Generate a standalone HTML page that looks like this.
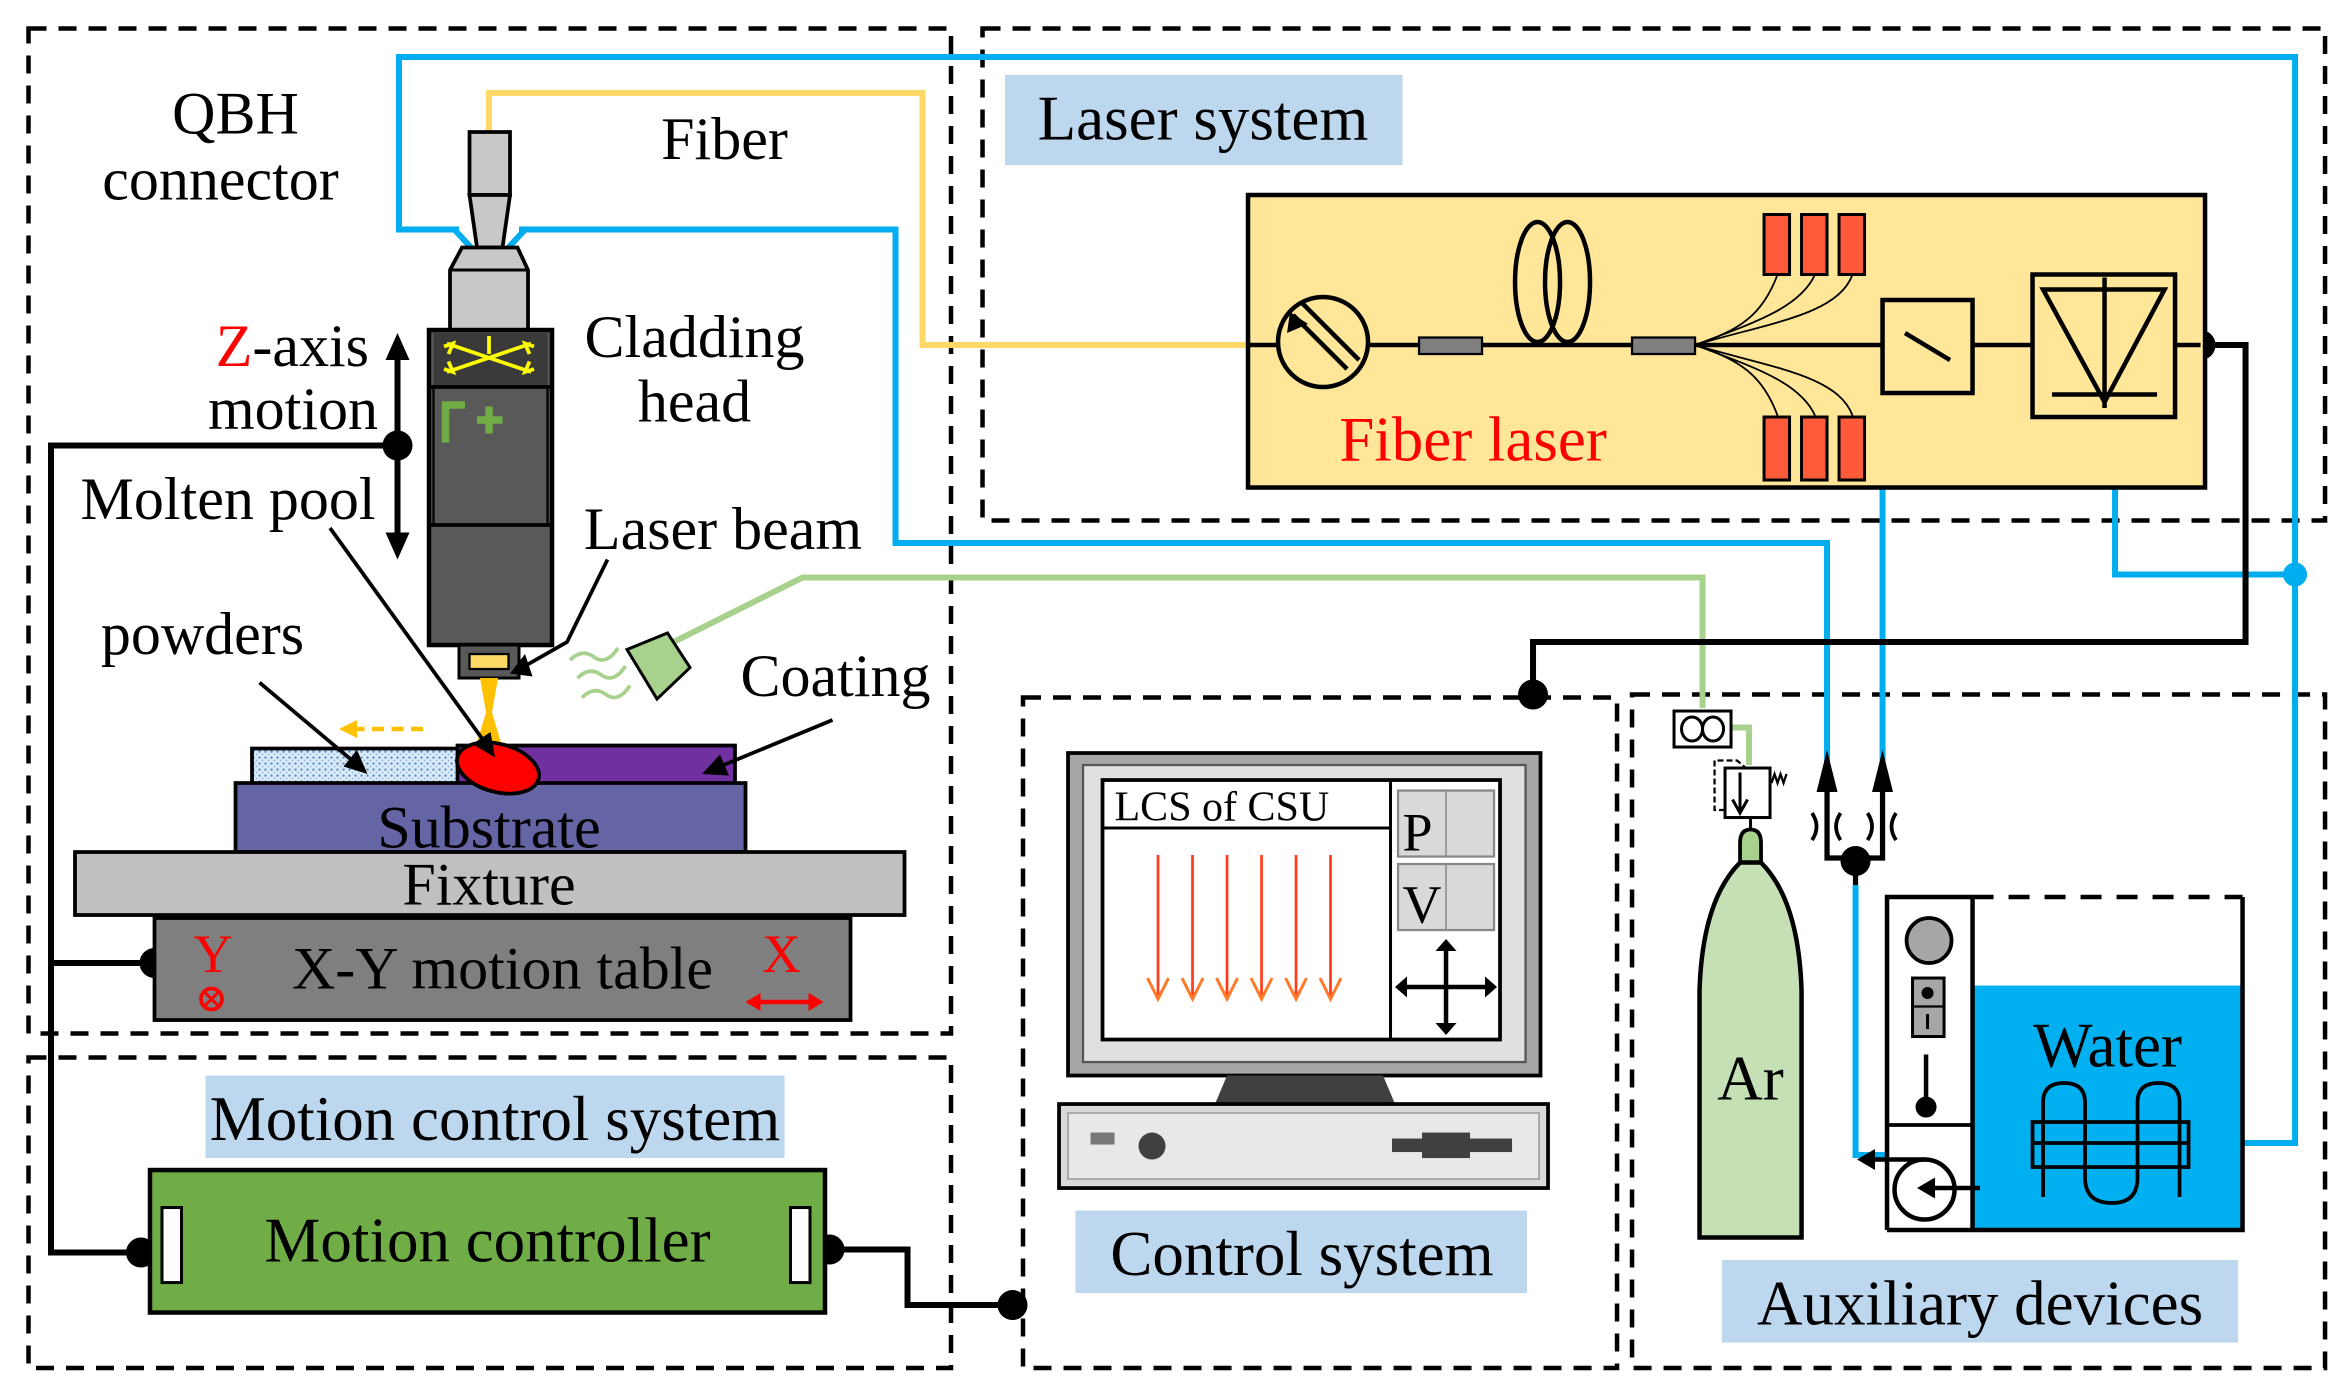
<!DOCTYPE html>
<html><head><meta charset="utf-8"><style>
html,body{margin:0;padding:0;background:#fff;}
svg{display:block;}
text{font-family:"Liberation Serif",serif;fill:#000;}
</style></head><body>
<svg width="2351" height="1397" viewBox="0 0 1567.3 931.3" preserveAspectRatio="none" xmlns="http://www.w3.org/2000/svg">
<defs>
<pattern id="dots" width="4" height="4" patternUnits="userSpaceOnUse"><rect width="4" height="4" fill="#dbeaf7"/><circle cx="1" cy="1" r="0.8" fill="#5b8fc9"/><circle cx="3" cy="3" r="0.6" fill="#8fb4de"/></pattern>
</defs>

<g fill="none" stroke="#000" stroke-width="3" stroke-dasharray="12,8">
<rect x="19" y="19" width="615" height="670"/>
<rect x="19" y="705" width="615" height="207"/>
<rect x="655" y="19" width="895" height="328"/>
<rect x="682" y="465" width="396" height="447"/>
<rect x="1088" y="463" width="462" height="449"/>
</g>

<g fill="none" stroke="#00aeef" stroke-width="4">
<polyline points="306,153 266,153 266,38 1530,38 1530,762 1495,762"/>
<polyline points="346,153 597,153 597,362 1218,362 1218,510"/>
<line x1="1255" y1="325" x2="1255" y2="510"/>
<polyline points="1410,325 1410,383 1530,383"/>
<polyline points="1237,590 1237,770 1258,770"/>
</g>
<circle cx="1530" cy="383" r="8" fill="#00aeef"/>

<polyline points="326,90 326,62 615,62 615,230 832,230" fill="none" stroke="#ffd966" stroke-width="4"/>
<polyline points="445,430 535,385 1135,385 1135,472" fill="none" stroke="#a9d18e" stroke-width="4"/>
<polyline points="1150,485 1166,485 1166,510" fill="none" stroke="#a9d18e" stroke-width="4"/>

<g fill="none" stroke="#000" stroke-width="4">
<polyline points="1470,230 1497,230 1497,428 1022,428 1022,463"/>
<polyline points="265,297 34,297 34,835 94,835"/>
<line x1="34" y1="642" x2="103" y2="642"/>
<polyline points="553,833 605,833 605,870 675,870"/>
</g>
<g fill="#000">
<circle cx="1467" cy="230" r="10"/><circle cx="1022" cy="463" r="10"/><circle cx="265" cy="297" r="10"/>
<circle cx="103" cy="642" r="10"/><circle cx="94" cy="835" r="10"/><circle cx="553" cy="833" r="10"/><circle cx="675" cy="870" r="10"/>
</g>

<line x1="265" y1="232" x2="265" y2="362" stroke="#000" stroke-width="4"/>
<path d="M257,240 L265,222 L273,240z M257,355 L265,373 L273,355z" fill="#000"/>

<rect x="670" y="50" width="265" height="60" fill="#bdd7ee"/>
<text x="802" y="93" font-size="42" text-anchor="middle">Laser system</text>

<rect x="832" y="130" width="638" height="195" fill="#ffe699" stroke="#000" stroke-width="3"/>
<g stroke="#000" stroke-width="3" fill="none">
<line x1="832" y1="230" x2="1355" y2="230"/>
<line x1="1450" y1="230" x2="1467" y2="230"/>
<circle cx="882" cy="228" r="30" fill="#ffe699"/>
<line x1="862" y1="210" x2="898" y2="246"/><line x1="868" y1="202" x2="906" y2="240"/>
<ellipse cx="1025" cy="188" rx="15" ry="40"/><ellipse cx="1045" cy="188" rx="15" ry="40"/>
<rect x="1255" y="200" width="60" height="62" fill="#ffe699"/>
<line x1="1270" y1="222" x2="1300" y2="240"/>
<rect x="1355" y="183" width="95" height="95" fill="#ffe699"/>
<path d="M1362,193 L1443,193 L1403,268 z"/>
<line x1="1403" y1="185" x2="1403" y2="272"/>
<line x1="1368" y1="263" x2="1438" y2="263"/>
</g>
<path d="M860,208 L858,222 L872,216z" fill="#000"/>
<rect x="946" y="225" width="42" height="11" fill="#7f7f7f" stroke="#000" stroke-width="1.5"/>
<rect x="1088" y="225" width="42" height="11" fill="#7f7f7f" stroke="#000" stroke-width="1.5"/>
<g stroke="#000" stroke-width="1.2" fill="none">
<path d="M1130,230 C1160,220 1175,210 1185,183"/><path d="M1130,230 C1170,215 1200,205 1210,183"/><path d="M1130,230 C1180,215 1225,210 1235,183"/>
<path d="M1130,230 C1160,240 1175,250 1185,277"/><path d="M1130,230 C1170,245 1200,255 1210,277"/><path d="M1130,230 C1180,245 1225,250 1235,277"/>
</g>
<g fill="#ff5b3a" stroke="#000" stroke-width="2">
<rect x="1176" y="143" width="17" height="40"/><rect x="1201" y="143" width="17" height="40"/><rect x="1226" y="143" width="17" height="40"/>
<rect x="1176" y="278" width="17" height="42"/><rect x="1201" y="278" width="17" height="42"/><rect x="1226" y="278" width="17" height="42"/>
</g>
<text x="982" y="307" font-size="42" text-anchor="middle" style="fill:#ff0000">Fiber laser</text>

<text x="157" y="89" font-size="40" text-anchor="middle">QBH</text>
<text x="147" y="133" font-size="40" text-anchor="middle">connector</text>
<text x="483" y="106" font-size="40" text-anchor="middle">Fiber</text>
<text x="463" y="238" font-size="40" text-anchor="middle">Cladding</text>
<text x="463" y="281" font-size="40" text-anchor="middle">head</text>
<text x="246" y="244" font-size="40" text-anchor="end"><tspan style="fill:#ff0000">Z</tspan>-axis</text>
<text x="252" y="286" font-size="40" text-anchor="end">motion</text>
<text x="152" y="346" font-size="40" text-anchor="middle">Molten pool</text>
<text x="482" y="366" font-size="40" text-anchor="middle">Laser beam</text>
<text x="135" y="436" font-size="40" text-anchor="middle">powders</text>
<text x="557" y="464" font-size="40" text-anchor="middle">Coating</text>

<rect x="313" y="88" width="27" height="42" fill="#c8c8c8" stroke="#000" stroke-width="2.5"/>
<path d="M313,130 L340,130 L335,165 L318,165z" fill="#c8c8c8" stroke="#000" stroke-width="2.5"/>
<path d="M302,152 L314,165 M351,152 L339,165" stroke="#00aeef" stroke-width="4"/>
<path d="M308,165 L345,165 L352,180 L352,220 L300,220 L300,180z" fill="#c8c8c8" stroke="#000" stroke-width="2.5"/>
<line x1="300" y1="180" x2="352" y2="180" stroke="#000" stroke-width="2"/>
<rect x="286" y="220" width="82" height="210" fill="#595959" stroke="#000" stroke-width="3"/>
<rect x="289" y="222" width="76" height="36" fill="#3a3a3a"/>
<line x1="286" y1="258" x2="368" y2="258" stroke="#000" stroke-width="2.5"/>
<line x1="286" y1="350" x2="368" y2="350" stroke="#000" stroke-width="2.5"/>
<line x1="289" y1="258" x2="289" y2="350" stroke="#000" stroke-width="1.5"/><line x1="365" y1="258" x2="365" y2="350" stroke="#000" stroke-width="1.5"/>
<g stroke="#ffff00" stroke-width="2.5" fill="none">
<path d="M298,229 L354,248 M298,248 L354,229 M326,224 L326,236"/>
<path d="M296,231 L302,229 L299,236 M296,246 L302,248 L299,241 M356,231 L350,229 L353,236 M356,246 L350,248 L353,241"/>
</g>
<path d="M297,295 L297,270 L310,270 M318,280 L335,280 M326,271 L326,289" stroke="#70ad47" stroke-width="5" fill="none"/>
<rect x="306" y="430" width="40" height="22" fill="#595959" stroke="#000" stroke-width="2"/>
<rect x="313" y="436" width="26" height="10" fill="#ffd966" stroke="#000" stroke-width="1.5"/>
<path d="M320,452 L332,452 L328,475 L334,495 L318,495 L324,475z" fill="#ffc000"/>

<path d="M418,433 L445,422 L460,445 L438,466z" fill="#a9d18e" stroke="#000" stroke-width="2"/>
<g stroke="#a9d18e" stroke-width="2.5" fill="none">
<path d="M380,440 q8,-8 16,-2 t16,-6"/><path d="M385,452 q8,-8 16,-2 t16,-6"/><path d="M388,465 q8,-8 16,-2 t16,-6"/>
</g>
<line x1="282" y1="486" x2="235" y2="486" stroke="#ffc000" stroke-width="3" stroke-dasharray="8,5"/>
<path d="M238,480 L226,486 L238,492z" fill="#ffc000"/>

<rect x="168" y="499" width="145" height="25" fill="url(#dots)" stroke="#000" stroke-width="2.5"/>
<rect x="305" y="497" width="185" height="33" fill="#7030a0" stroke="#000" stroke-width="2.5"/>
<rect x="157" y="522" width="340" height="46" fill="#6565a6" stroke="#000" stroke-width="2.5"/>
<ellipse cx="332" cy="512" rx="28" ry="16" transform="rotate(15 332 512)" fill="#ff0000" stroke="#000" stroke-width="2.5"/>
<text x="326" y="565" font-size="40" text-anchor="middle">Substrate</text>

<!-- pointer lines drawn on top -->
<g stroke="#000" stroke-width="2.5" fill="none">
<line x1="220" y1="352" x2="324" y2="496"/>
<polyline points="405,373 378,428 350,444"/>
<line x1="173" y1="455" x2="236" y2="508"/>
<line x1="555" y1="480" x2="480" y2="511"/>
</g>
<g fill="#000">
<path d="M330,505 L315,496 L327,488z"/>
<path d="M340,449 L350,436 L355,451z"/>
<path d="M245,516 L229,511 L238,500z"/>
<path d="M468,516 L480,503 L486,517z"/>
</g>

<rect x="50" y="568" width="553" height="42" fill="#c0c0c0" stroke="#000" stroke-width="2.5"/>
<text x="326" y="603" font-size="40" text-anchor="middle">Fixture</text>
<rect x="103" y="612" width="464" height="68" fill="#7f7f7f" stroke="#000" stroke-width="2.5"/>
<text x="335" y="659" font-size="40" text-anchor="middle">X-Y motion table</text>
<text x="142" y="648" font-size="36" text-anchor="middle" style="fill:#ff0000">Y</text>
<circle cx="141" cy="666" r="7" fill="none" stroke="#ff0000" stroke-width="2.5"/>
<path d="M136,661 L146,671 M146,661 L136,671" stroke="#ff0000" stroke-width="2"/>
<text x="521" y="648" font-size="36" text-anchor="middle" style="fill:#ff0000">X</text>
<line x1="505" y1="668" x2="541" y2="668" stroke="#ff0000" stroke-width="3"/>
<path d="M507,662 L497,668 L507,674z M539,662 L549,668 L539,674z" fill="#ff0000"/>

<rect x="137" y="717" width="386" height="55" fill="#bdd7ee"/>
<text x="330" y="760" font-size="42" text-anchor="middle">Motion control system</text>
<rect x="100" y="780" width="450" height="95" fill="#70ad47" stroke="#000" stroke-width="3"/>
<rect x="108" y="805" width="13" height="50" fill="#fff" stroke="#000" stroke-width="2"/>
<rect x="527" y="805" width="13" height="50" fill="#fff" stroke="#000" stroke-width="2"/>
<text x="325" y="841" font-size="42" text-anchor="middle">Motion controller</text>

<rect x="712" y="502" width="315" height="215" fill="#a6a6a6" stroke="#000" stroke-width="2.5"/>
<rect x="722" y="510" width="295" height="198" fill="#e0e0e0" stroke="#555" stroke-width="1.5"/>
<rect x="735" y="520" width="265" height="173" fill="#fff" stroke="#000" stroke-width="2.5"/>
<line x1="735" y1="552" x2="927" y2="552" stroke="#000" stroke-width="2"/>
<line x1="927" y1="520" x2="927" y2="693" stroke="#000" stroke-width="2"/>
<text x="743" y="547" font-size="28">LCS of CSU</text>
<rect x="932" y="527" width="64" height="44" fill="#d9d9d9" stroke="#888" stroke-width="1.5"/>
<rect x="932" y="576" width="64" height="44" fill="#d9d9d9" stroke="#888" stroke-width="1.5"/>
<line x1="964" y1="527" x2="964" y2="571" stroke="#888"/><line x1="964" y1="576" x2="964" y2="620" stroke="#888"/>
<text x="935" y="567" font-size="36">P</text><text x="935" y="615" font-size="36">V</text>
<g stroke="#000" stroke-width="3"><line x1="936" y1="658" x2="992" y2="658"/><line x1="964" y1="632" x2="964" y2="684"/></g>
<path d="M938,651 L930,658 L938,665z M990,651 L998,658 L990,665z M957,634 L964,626 L971,634z M957,682 L964,690 L971,682z" fill="#000"/>
<g stroke="#ff3b1a" stroke-width="1.8" fill="none">
<line x1="772" y1="570" x2="772" y2="664"/><line x1="795" y1="570" x2="795" y2="664"/>
<line x1="818" y1="570" x2="818" y2="664"/><line x1="841" y1="570" x2="841" y2="664"/>
<line x1="864" y1="570" x2="864" y2="664"/><line x1="887" y1="570" x2="887" y2="664"/>
</g>
<g stroke="#ff7a2a" stroke-width="2" fill="none">
<path d="M765,652 L772,666 L779,652 M788,652 L795,666 L802,652 M811,652 L818,666 L825,652 M834,652 L841,666 L848,652 M857,652 L864,666 L871,652 M880,652 L887,666 L894,652"/>
</g>
<path d="M818,717 L922,717 L930,736 L810,736z" fill="#404040"/>
<rect x="706" y="736" width="326" height="56" fill="#d9d9d9" stroke="#000" stroke-width="2.5"/>
<rect x="712" y="742" width="314" height="44" fill="#e8e8e8" stroke="#999" stroke-width="1"/>
<rect x="727" y="755" width="16" height="8" fill="#777"/>
<circle cx="768" cy="764" r="9" fill="#404040"/>
<rect x="928" y="759" width="80" height="9" fill="#404040"/><rect x="948" y="755" width="32" height="17" fill="#404040"/>
<rect x="717" y="807" width="301" height="55" fill="#bdd7ee"/>
<text x="868" y="850" font-size="42" text-anchor="middle">Control system</text>

<rect x="1116" y="474" width="38" height="24" fill="#fff" stroke="#000" stroke-width="2"/>
<ellipse cx="1128" cy="486" rx="7" ry="8" fill="none" stroke="#000" stroke-width="2"/><ellipse cx="1142" cy="486" rx="7" ry="8" fill="none" stroke="#000" stroke-width="2"/>
<rect x="1150" y="512" width="30" height="33" fill="#fff" stroke="#000" stroke-width="2"/>
<path d="M1150,540 L1143,540 L1143,507 L1158,507 L1164,512" fill="none" stroke="#000" stroke-width="1.5" stroke-dasharray="4,2"/>
<line x1="1160" y1="515" x2="1160" y2="540" stroke="#000" stroke-width="2"/><path d="M1155,533 L1160,542 L1165,533" fill="none" stroke="#000" stroke-width="2"/>
<path d="M1181,522 l2,-6 l2,6 l2,-6 l2,6 l2,-6" fill="none" stroke="#000" stroke-width="1.5"/>
<line x1="1167" y1="545" x2="1167" y2="555" stroke="#000" stroke-width="2"/>
<path d="M1160,575 L1160,562 Q1160,553 1167,553 Q1174,553 1174,562 L1174,575z" fill="#a9d18e" stroke="#000" stroke-width="2.5"/>
<path d="M1133,825 L1133,660 Q1135,600 1160,575 L1174,575 Q1199,600 1201,660 L1201,825z" fill="#c5e0b4" stroke="#000" stroke-width="3"/>
<text x="1167" y="733" font-size="42" text-anchor="middle">Ar</text>

<g stroke="#000" stroke-width="3.5" fill="none">
<polyline points="1218,525 1218,572 1255,572 1255,525"/>
<line x1="1237" y1="572" x2="1237" y2="590"/>
<path d="M1208,542 q6,9 0,18 M1227,542 q-6,9 0,18 M1245,542 q6,9 0,18 M1264,542 q-6,9 0,18" stroke-width="2.5"/>
</g>
<path d="M1211,528 L1218,500 L1225,528z M1248,528 L1255,500 L1262,528z" fill="#000"/>
<circle cx="1237" cy="574" r="10" fill="#000"/>

<rect x="1258" y="598" width="237" height="222" fill="#fff"/>
<rect x="1315" y="657" width="180" height="163" fill="#00b0f0"/>
<path d="M1258,820 L1258,598 L1315,598 M1495,598 L1495,820 L1258,820" fill="none" stroke="#000" stroke-width="3"/>
<line x1="1315" y1="598" x2="1495" y2="598" stroke="#000" stroke-width="3" stroke-dasharray="14,10"/>
<line x1="1315" y1="598" x2="1315" y2="820" stroke="#000" stroke-width="3"/>
<line x1="1258" y1="750" x2="1315" y2="750" stroke="#000" stroke-width="2.5"/>
<circle cx="1286" cy="627" r="15" fill="#a6a6a6" stroke="#000" stroke-width="2.5"/>
<rect x="1275" y="652" width="21" height="39" fill="#a6a6a6" stroke="#000" stroke-width="2"/>
<line x1="1275" y1="671" x2="1296" y2="671" stroke="#000" stroke-width="1.5"/>
<circle cx="1285" cy="662" r="4" fill="#000"/><line x1="1285" y1="676" x2="1285" y2="686" stroke="#000" stroke-width="2"/>
<line x1="1284" y1="703" x2="1284" y2="733" stroke="#000" stroke-width="3"/><circle cx="1284" cy="738" r="7" fill="#000"/>
<circle cx="1283" cy="793" r="20" fill="none" stroke="#000" stroke-width="3"/>
<path d="M1283,773 L1245,773" fill="none" stroke="#000" stroke-width="3"/><path d="M1250,766 L1238,773 L1250,780z" fill="#000"/>
<line x1="1320" y1="792" x2="1285" y2="792" stroke="#000" stroke-width="3"/><path d="M1290,785 L1278,792 L1290,799z" fill="#000"/>
<text x="1405" y="711" font-size="42" text-anchor="middle">Water</text>
<g stroke="#000" stroke-width="2.5" fill="none">
<path d="M1362,798 L1362,735 Q1362,722 1376,722 Q1390,722 1390,735 L1390,750"/>
<path d="M1425,750 L1425,735 Q1425,722 1439,722 Q1453,722 1453,735 L1453,798"/>
<path d="M1390,750 L1390,785 Q1390,802 1408,802 Q1425,802 1425,785 L1425,750"/>
<rect x="1355" y="748" width="104" height="30"/>
<line x1="1355" y1="762" x2="1459" y2="762"/>
</g>

<rect x="1148" y="840" width="344" height="55" fill="#bdd7ee"/>
<text x="1320" y="883" font-size="42" text-anchor="middle">Auxiliary devices</text>
</svg>
</body></html>
